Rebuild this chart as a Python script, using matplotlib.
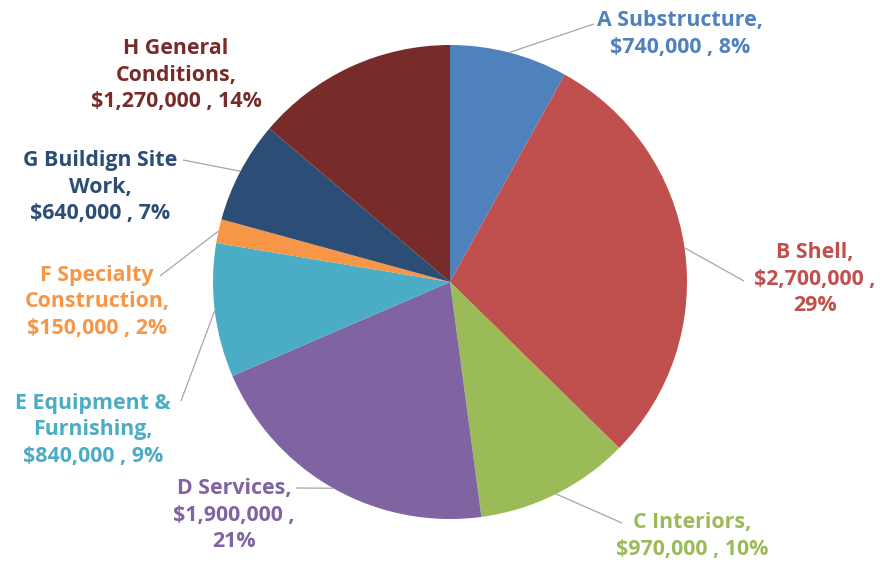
import numpy as np
import matplotlib
matplotlib.use('Agg')
import matplotlib.pyplot as plt

# cost breakdown
names = ['A Substructure', 'B Shell', 'C Interiors', 'D Services',
         'E Equipment & Furnishing', 'F Specialty Construction',
         'G Buildign Site Work', 'H General Conditions']
label_text = ['A Substructure,\n$740,000 , 8%',
              'B Shell,\n$2,700,000 ,\n29%',
              'C Interiors,\n$970,000 , 10%',
              'D Services,\n$1,900,000 ,\n21%',
              'E Equipment &\nFurnishing,\n$840,000 , 9%',
              'F Specialty\nConstruction,\n$150,000 , 2%',
              'G Buildign Site\nWork,\n$640,000 , 7%',
              'H General\nConditions,\n$1,270,000 , 14%']
costs = [740000, 2700000, 970000, 1900000, 840000, 150000, 640000, 1270000]
colors = ['#4F81BD', '#C0504D', '#9BBB59', '#8064A2',
          '#4BACC6', '#F79646', '#2C4D75', '#772C2A']

W, H = 891, 567
fig = plt.figure(figsize=(W / 100, H / 100), dpi=100)
ax = fig.add_axes([0, 0, 1, 1])

cx, cy, r = 450, H - 282, 237
wedges, _ = ax.pie(costs, colors=colors, startangle=90, counterclock=False,
                   center=(cx, cy), radius=r, frame=True,
                   wedgeprops=dict(linewidth=0))
ax.set_xlim(0, W)
ax.set_ylim(0, H)
ax.set_aspect('equal')
ax.axis('off')

# label block centres (pixels from top-left) and leader line end points
label_pos = [(680, 34), (815, 279), (692, 536), (234, 515),
             (93, 430), (97, 302), (100, 187), (176, 75)]
line_end = [(594, 24), (744, 281), (622, 523), (296, 488),
            (181, 401), (160, 276), (183, 160), None]

for w, txt, c, (lx, ly), le in zip(wedges, label_text, colors, label_pos, line_end):
    ax.text(lx, H - ly, txt, color=c, fontsize=15.4, fontweight='bold',
            family=['Open Sans', 'DejaVu Sans'], ha='center', va='center',
            linespacing=1.33)
    if le is None:
        continue
    mid = np.deg2rad((w.theta1 + w.theta2) / 2)
    sx, sy = cx + r * np.cos(mid), cy + r * np.sin(mid)
    ax.plot([sx, le[0]], [sy, H - le[1]], color='#A6A6A6', lw=0.9,
            solid_capstyle='butt')

fig.savefig('out.png', dpi=100)
